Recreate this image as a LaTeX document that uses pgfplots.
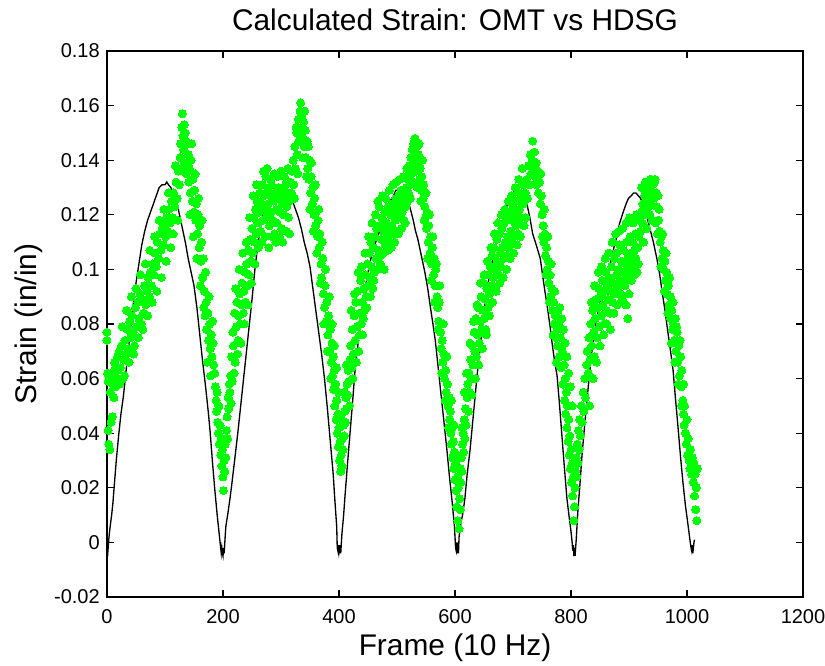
\documentclass[border=0pt]{standalone}
\usepackage{fontspec}
\setmainfont{Liberation Sans}
\usepackage{pgfplots}
\pgfplotsset{compat=1.18}
\definecolor{dotgreen}{RGB}{0,255,0}
\newcommand{\tickfont}{\fontsize{15pt}{17pt}\selectfont}
\newcommand{\labfont}{\fontsize{22.4pt}{26pt}\selectfont}
\begin{document}
\begin{tikzpicture}
\begin{axis}[
  name=ax,
  width=522pt, height=409.5pt, scale only axis,
  xmin=0, xmax=1200, ymin=-0.02, ymax=0.18,
  xtick={0,200,400,600,800,1000,1200},
  xticklabels={0,200,400,600,800,1000,1200},
  ytick={-0.02,0,0.02,0.04,0.06,0.08,0.1,0.12,0.14,0.16,0.18},
  yticklabels={-0.02,0,0.02,0.04,0.06,0.08,0.1,0.12,0.14,0.16,0.18},
  tick align=inside, major tick length=5.5pt,
  every tick/.style={black, line width=0.9pt},
  axis line style={line width=1.4pt},
  ticklabel style={font=\tickfont, inner sep=0pt},
  xticklabel style={yshift=-9.5pt},
  yticklabel style={xshift=-5.25pt},
  title={Calculated Strain: OMT vs HDSG},
  title style={at={(axis description cs:0.5,1.022)}, anchor=base, font=\labfont, inner sep=0pt},
  xlabel={Frame (10 Hz)},
  xlabel style={at={(axis description cs:0.5,-0.108)}, anchor=base, font=\labfont, inner sep=0pt},
  ylabel={Strain (in/in)},
  ylabel style={at={(axis description cs:-0.1006,0.5)}, anchor=base, font=\labfont, inner sep=0pt},
  clip=false,
]
% HDSG (black line)
\addplot[black, line width=1pt, no marks] coordinates {
(0,0.000)(1,-0.005)(2,-0.002)(3,0.001)(5,0.005)(8,0.010)(10,0.014)(13,0.022)(16,0.030)(20,0.039)
(24,0.047)(28,0.053)(32,0.061)(36,0.069)(40,0.077)(45,0.087)(50,0.095)(55,0.102)(60,0.109)(65,0.114)
(70,0.118)(75,0.121)(80,0.124)(85,0.127)(90,0.130)(95,0.131)(100,0.131)(103,0.132)(106,0.131)(110,0.130)
(115,0.128)(120,0.125)(125,0.120)(130,0.115)(135,0.110)(140,0.104)(145,0.099)(150,0.094)(155,0.086)
(160,0.076)(165,0.066)(170,0.057)(175,0.047)(178,0.040)(182,0.029)(186,0.019)(190,0.010)(194,0.002)
(196,-0.002)(197,-0.004)(198,-0.002)(199,-0.004)(200,-0.005)(201,-0.002)(202,-0.004)(204,0.003)
(205,0.006)(208,0.010)(212,0.016)(215,0.021)(220,0.030)(226,0.041)(232,0.053)(238,0.065)(244,0.077)
(250,0.089)(255,0.100)(260,0.109)(265,0.116)(270,0.121)(275,0.124)(280,0.126)(285,0.128)(290,0.129)
(295,0.130)(300,0.131)(305,0.131)(310,0.130)(315,0.128)(320,0.125)(325,0.122)(330,0.119)(335,0.115)
(340,0.110)(345,0.106)(350,0.101)(355,0.093)(360,0.085)(365,0.077)(370,0.069)(375,0.060)(380,0.049)
(385,0.037)(390,0.025)(393,0.015)(396,0.006)(397,-0.002)(398,-0.003)(399,-0.001)(400,-0.004)(401,-0.003)
(402,-0.001)(403,-0.004)(405,0.003)(408,0.010)(410,0.016)(414,0.027)(419,0.040)(424,0.053)(428,0.064)
(434,0.075)(440,0.085)(445,0.093)(450,0.099)(455,0.104)(460,0.108)(465,0.111)(470,0.114)(476,0.118)
(482,0.122)(488,0.125)(494,0.127)(498,0.129)(502,0.129)(506,0.128)(510,0.127)(515,0.126)(522,0.123)
(528,0.118)(532,0.114)(536,0.111)(542,0.105)(548,0.099)(553,0.093)(557,0.087)(562,0.080)(566,0.074)
(570,0.066)(574,0.058)(577,0.052)(582,0.042)(586,0.034)(590,0.025)(595,0.015)(599,0.006)(601,-0.002)
(602,-0.003)(603,0.000)(604,-0.004)(605,-0.002)(606,-0.004)(607,0.002)(610,0.007)(613,0.010)(617,0.016)
(621,0.025)(626,0.034)(630,0.043)(634,0.052)(638,0.061)(643,0.071)(648,0.080)(652,0.088)(657,0.095)
(661,0.099)(666,0.104)(672,0.110)(678,0.115)(683,0.119)(689,0.123)(695,0.126)(700,0.128)(704,0.129)
(707,0.129)(710,0.128)(714,0.127)(719,0.126)(724,0.124)(729,0.119)(734,0.113)(740,0.109)(747,0.104)
(751,0.098)(755,0.092)(760,0.085)(764,0.079)(768,0.072)(772,0.066)(776,0.061)(780,0.051)(784,0.040)
(788,0.029)(793,0.016)(797,0.009)(800,0.004)(802,0.000)(803,-0.003)(804,-0.001)(805,-0.005)(806,-0.002)
(807,-0.005)(808,-0.002)(809,0.001)(812,0.012)(815,0.020)(819,0.032)(824,0.044)(828,0.053)(832,0.062)
(836,0.070)(842,0.079)(848,0.086)(855,0.092)(862,0.097)(870,0.104)(875,0.109)(879,0.112)(884,0.117)
(890,0.121)(895,0.124)(899,0.126)(904,0.127)(908,0.128)(912,0.128)(916,0.127)(920,0.126)(924,0.124)
(930,0.120)(936,0.115)(942,0.110)(948,0.104)(953,0.098)(957,0.092)(962,0.085)(967,0.077)(971,0.071)
(976,0.063)(980,0.053)(985,0.041)(989,0.031)(993,0.022)(997,0.014)(1002,0.006)(1005,0.001)(1007,-0.002)
(1008,-0.003)(1009,-0.001)(1010,-0.004)(1011,-0.002)(1012,0.000)(1013,0.001)
};
% OMT (green dots)
\addplot[only marks, mark=*, mark size=3pt, mark options={fill=dotgreen, draw=dotgreen, line width=0pt}] coordinates {
(0,0.077)(0,0.074)(1,0.062)(2,0.059)(2,0.041)(3,0.036)(4,0.060)(5,0.034)(6,0.055)(7,0.044)(8,0.062)
(9,0.046)(10,0.058)(11,0.061)(12,0.053)(13,0.066)(14,0.057)(15,0.064)(17,0.060)(18,0.068)(19,0.063)
(21,0.070)(23,0.064)(25,0.072)(27,0.060)(29,0.067)(31,0.074)(33,0.069)(35,0.078)(37,0.071)(39,0.081)
(41,0.075)(43,0.083)(45,0.077)(47,0.072)(49,0.086)(51,0.079)(53,0.088)(55,0.082)(57,0.091)(59,0.080)
(61,0.089)(63,0.084)(65,0.094)(67,0.087)(69,0.092)(71,0.097)(73,0.090)(75,0.099)(77,0.094)(79,0.102)
(81,0.098)(83,0.106)(85,0.101)(87,0.110)(89,0.104)(91,0.113)(93,0.107)(95,0.115)(97,0.109)(99,0.117)
(101,0.112)(103,0.119)(105,0.114)(107,0.122)(109,0.117)(111,0.125)(113,0.119)(115,0.128)(117,0.123)
(119,0.132)(121,0.126)(123,0.136)(125,0.131)(126,0.141)(127,0.146)(128,0.137)(129,0.152)(130,0.157)
(131,0.149)(132,0.144)(133,0.153)(134,0.139)(135,0.150)(136,0.147)(137,0.135)(138,0.146)(140,0.142)
(141,0.132)(142,0.137)(144,0.128)(145,0.140)(147,0.125)(148,0.133)(150,0.121)(151,0.129)(153,0.118)
(154,0.124)(156,0.113)(157,0.120)(159,0.108)(160,0.116)(162,0.103)(163,0.110)(165,0.097)(166,0.104)
(168,0.092)(169,0.083)(171,0.088)(172,0.078)(174,0.084)(175,0.074)(177,0.080)(178,0.071)(180,0.076)
(181,0.068)(183,0.073)(184,0.065)(186,0.062)(187,0.057)(188,0.052)(189,0.048)(190,0.055)(191,0.044)
(192,0.040)(193,0.050)(194,0.036)(195,0.043)(196,0.032)(197,0.038)(198,0.028)(199,0.034)(200,0.024)
(201,0.019)(202,0.030)(203,0.026)(204,0.036)(205,0.031)(206,0.041)(207,0.046)(208,0.038)(209,0.053)
(210,0.049)(211,0.058)(212,0.055)(213,0.061)(214,0.051)(216,0.059)(215,0.068)(217,0.077)(218,0.072)
(220,0.084)(221,0.066)(223,0.079)(224,0.088)(226,0.074)(227,0.083)(229,0.091)(230,0.080)(232,0.087)
(233,0.095)(235,0.084)(236,0.092)(238,0.099)(239,0.088)(241,0.102)(242,0.094)(244,0.107)(245,0.098)
(247,0.111)(248,0.103)(250,0.115)(251,0.106)(253,0.119)(254,0.110)(256,0.122)(257,0.113)(259,0.125)
(260,0.117)(262,0.121)(263,0.128)(265,0.114)(266,0.124)(268,0.131)(269,0.118)(271,0.127)(272,0.122)
(274,0.134)(275,0.119)(277,0.129)(278,0.124)(280,0.116)(281,0.127)(283,0.121)(284,0.131)(286,0.118)
(287,0.125)(289,0.113)(290,0.128)(292,0.122)(293,0.117)(295,0.126)(296,0.130)(298,0.121)(299,0.127)
(301,0.115)(302,0.124)(304,0.129)(305,0.120)(307,0.126)(308,0.131)(310,0.123)(311,0.128)(313,0.119)
(314,0.125)(316,0.132)(317,0.127)(319,0.136)(321,0.140)(322,0.131)(324,0.145)(325,0.137)(327,0.150)
(328,0.142)(330,0.155)(331,0.147)(333,0.158)(334,0.161)(335,0.152)(336,0.156)(338,0.148)(339,0.154)
(340,0.145)(342,0.151)(343,0.141)(345,0.147)(346,0.137)(348,0.133)(349,0.140)(351,0.128)(352,0.134)
(354,0.124)(355,0.130)(357,0.120)(358,0.126)(360,0.116)(361,0.121)(363,0.112)(364,0.118)(366,0.108)
(367,0.113)(369,0.102)(370,0.097)(372,0.104)(373,0.091)(375,0.086)(376,0.094)(378,0.081)(379,0.088)
(381,0.076)(382,0.083)(384,0.070)(385,0.078)(387,0.066)(388,0.073)(389,0.061)(390,0.068)(391,0.056)
(392,0.063)(393,0.050)(394,0.058)(395,0.045)(396,0.052)(397,0.040)(398,0.047)(399,0.035)(400,0.042)
(401,0.030)(402,0.037)(403,0.026)(404,0.032)(405,0.028)(406,0.038)(407,0.034)(408,0.043)(409,0.039)
(410,0.048)(411,0.044)(412,0.053)(413,0.049)(414,0.058)(415,0.054)(416,0.063)(417,0.059)(419,0.067)
(420,0.072)(422,0.064)(423,0.078)(425,0.069)(426,0.083)(428,0.074)(429,0.088)(431,0.079)(432,0.092)
(434,0.070)(435,0.084)(437,0.096)(438,0.080)(440,0.088)(441,0.076)(443,0.093)(444,0.085)(446,0.098)
(447,0.090)(449,0.102)(450,0.094)(452,0.106)(453,0.097)(455,0.110)(456,0.101)(458,0.093)(459,0.108)
(461,0.099)(462,0.112)(464,0.104)(465,0.115)(467,0.125)(468,0.107)(470,0.116)(471,0.102)(473,0.111)
(474,0.119)(476,0.106)(477,0.114)(479,0.121)(480,0.109)(482,0.117)(483,0.112)(485,0.123)(486,0.115)
(488,0.110)(489,0.120)(491,0.116)(492,0.124)(494,0.113)(495,0.121)(497,0.118)(498,0.126)(500,0.114)
(501,0.122)(503,0.127)(504,0.119)(506,0.124)(507,0.129)(509,0.121)(510,0.126)(512,0.118)(513,0.128)
(515,0.123)(516,0.130)(518,0.125)(519,0.133)(520,0.128)(521,0.138)(522,0.131)(524,0.141)(525,0.135)
(526,0.144)(527,0.138)(529,0.146)(530,0.141)(531,0.148)(532,0.143)(533,0.136)(534,0.145)(536,0.139)
(537,0.142)(539,0.133)(540,0.137)(542,0.129)(543,0.134)(545,0.126)(546,0.131)(548,0.123)(549,0.119)
(551,0.115)(552,0.121)(554,0.110)(555,0.116)(557,0.106)(558,0.112)(560,0.102)(561,0.108)(563,0.098)
(564,0.104)(566,0.094)(567,0.100)(569,0.090)(570,0.086)(572,0.081)(573,0.088)(575,0.077)(576,0.071)
(578,0.074)(579,0.066)(581,0.069)(582,0.060)(584,0.063)(585,0.055)(587,0.058)(588,0.050)(590,0.053)
(591,0.045)(592,0.048)(593,0.040)(594,0.036)(595,0.042)(596,0.031)(597,0.037)(598,0.027)(599,0.033)
(600,0.023)(601,0.029)(602,0.019)(603,0.013)(604,0.024)(605,0.008)(606,0.020)(607,0.005)(608,0.016)
(609,0.027)(610,0.022)(611,0.031)(612,0.026)(613,0.036)(614,0.040)(615,0.033)(616,0.045)(617,0.038)
(618,0.049)(619,0.043)(621,0.053)(622,0.058)(624,0.062)(625,0.055)(627,0.067)(628,0.060)(630,0.072)
(631,0.065)(633,0.077)(634,0.070)(636,0.082)(637,0.068)(639,0.076)(640,0.086)(642,0.073)(643,0.081)
(645,0.090)(646,0.078)(648,0.085)(649,0.095)(651,0.082)(652,0.089)(654,0.076)(655,0.093)(657,0.086)
(658,0.098)(660,0.091)(661,0.101)(663,0.094)(664,0.105)(666,0.097)(667,0.108)(669,0.100)(670,0.093)
(672,0.111)(673,0.103)(675,0.098)(676,0.113)(678,0.106)(679,0.101)(681,0.115)(682,0.108)(684,0.104)
(685,0.117)(687,0.110)(688,0.105)(690,0.119)(691,0.112)(693,0.108)(694,0.121)(696,0.114)(697,0.110)
(699,0.118)(700,0.123)(702,0.112)(703,0.120)(705,0.116)(706,0.125)(708,0.118)(709,0.113)(711,0.122)
(712,0.128)(714,0.119)(715,0.126)(717,0.131)(718,0.124)(719,0.116)(721,0.128)(722,0.119)(724,0.133)
(725,0.126)(727,0.138)(728,0.131)(730,0.142)(731,0.135)(733,0.140)(734,0.147)(735,0.137)(737,0.143)
(738,0.134)(740,0.139)(741,0.131)(743,0.136)(744,0.128)(746,0.132)(747,0.124)(749,0.127)(750,0.120)
(752,0.116)(753,0.110)(755,0.113)(756,0.105)(758,0.108)(759,0.100)(761,0.103)(762,0.095)(764,0.098)
(765,0.090)(767,0.093)(768,0.085)(770,0.088)(771,0.080)(773,0.083)(774,0.075)(776,0.078)(777,0.072)
(779,0.080)(780,0.068)(782,0.075)(783,0.064)(785,0.070)(786,0.058)(788,0.065)(789,0.052)(790,0.060)
(791,0.047)(792,0.055)(793,0.042)(794,0.050)(795,0.037)(796,0.045)(797,0.032)(798,0.039)(799,0.027)
(800,0.034)(801,0.022)(802,0.029)(803,0.017)(804,0.024)(805,0.008)(806,0.013)(807,0.020)(808,0.026)
(809,0.031)(810,0.024)(811,0.036)(812,0.029)(813,0.041)(814,0.034)(815,0.045)(816,0.039)(818,0.050)
(819,0.044)(821,0.055)(822,0.048)(824,0.060)(825,0.053)(827,0.065)(828,0.070)(830,0.062)(831,0.075)
(833,0.067)(834,0.080)(836,0.072)(837,0.085)(839,0.077)(840,0.068)(842,0.082)(843,0.089)(845,0.075)
(846,0.086)(848,0.093)(849,0.079)(851,0.090)(852,0.083)(854,0.096)(855,0.087)(857,0.080)(858,0.092)
(860,0.099)(861,0.085)(863,0.094)(864,0.089)(866,0.097)(867,0.084)(869,0.092)(870,0.101)(872,0.088)
(873,0.095)(875,0.104)(876,0.091)(878,0.098)(879,0.106)(881,0.093)(882,0.100)(884,0.109)(885,0.096)
(887,0.103)(888,0.089)(890,0.099)(891,0.107)(893,0.094)(894,0.102)(895,0.087)(896,0.110)(897,0.098)
(898,0.082)(899,0.105)(900,0.101)(900,0.091)(902,0.112)(903,0.106)(905,0.103)(906,0.110)(908,0.100)
(909,0.107)(911,0.113)(912,0.104)(914,0.099)(915,0.108)(917,0.112)(918,0.118)(920,0.114)(921,0.121)
(923,0.117)(924,0.124)(926,0.120)(927,0.127)(929,0.122)(930,0.129)(932,0.125)(933,0.131)(935,0.127)
(936,0.120)(938,0.129)(939,0.124)(941,0.131)(942,0.126)(944,0.132)(945,0.133)(947,0.128)(948,0.123)
(950,0.127)(951,0.118)(953,0.114)(954,0.110)(956,0.112)(957,0.104)(959,0.107)(960,0.100)(962,0.103)
(963,0.096)(965,0.099)(966,0.091)(968,0.094)(969,0.087)(971,0.090)(972,0.082)(974,0.085)(975,0.078)
(977,0.080)(978,0.074)(980,0.082)(981,0.070)(983,0.077)(984,0.066)(986,0.072)(987,0.061)(989,0.068)
(990,0.057)(991,0.063)(993,0.052)(994,0.047)(995,0.043)(996,0.050)(998,0.040)(999,0.036)(1000,0.045)
(1001,0.032)(1002,0.038)(1004,0.030)(1005,0.027)(1006,0.034)(1007,0.028)(1008,0.025)(1009,0.031)
(1010,0.026)(1011,0.022)(1012,0.029)(1013,0.017)(1014,0.025)(1015,0.012)(1016,0.020)(1017,0.008)
(1018,0.027)
% wider scatter
(22,0.058)(26,0.079)(30,0.061)(34,0.085)(38,0.066)(42,0.090)(46,0.069)(50,0.093)(54,0.075)(58,0.098)
(62,0.078)(66,0.102)(70,0.083)(74,0.107)(78,0.088)(82,0.112)(86,0.092)(90,0.118)(94,0.097)(98,0.122)
(102,0.103)(106,0.128)(110,0.108)(114,0.113)(118,0.138)(122,0.118)
(143,0.120)(146,0.146)(149,0.112)(152,0.135)(155,0.104)(158,0.126)(161,0.094)(164,0.118)(167,0.086)
(170,0.099)(173,0.066)(176,0.090)(179,0.061)(182,0.081)
(219,0.062)(222,0.093)(225,0.069)(228,0.100)(231,0.073)(234,0.106)(237,0.080)(240,0.110)(243,0.087)
(246,0.119)(249,0.095)(252,0.127)(255,0.102)(258,0.131)(261,0.108)
(267,0.110)(270,0.136)(273,0.112)(276,0.137)(279,0.108)(282,0.133)(285,0.112)(288,0.135)(291,0.110)
(294,0.134)(297,0.112)(300,0.136)(303,0.110)(306,0.134)(309,0.114)(312,0.137)(315,0.113)(318,0.128)
(323,0.126)(326,0.152)(329,0.135)(332,0.149)(337,0.141)(341,0.158)(344,0.134)(347,0.145)(350,0.122)
(353,0.139)(356,0.114)(359,0.131)(362,0.106)(365,0.122)(368,0.095)(371,0.110)(374,0.080)(377,0.100)
(380,0.070)(383,0.090)(386,0.060)
(388,0.080)(392,0.072)(396,0.064)(399,0.055)(405,0.045)(409,0.055)(413,0.065)(418,0.050)
(421,0.085)(424,0.060)(427,0.091)(430,0.066)(433,0.099)(436,0.076)(439,0.101)(442,0.082)(445,0.106)
(448,0.086)(451,0.112)(454,0.090)(457,0.117)(460,0.096)(463,0.120)(466,0.100)(469,0.123)(472,0.105)
(475,0.127)(478,0.100)(481,0.126)(484,0.107)(487,0.129)(490,0.108)(493,0.131)(496,0.110)(499,0.132)
(502,0.113)(505,0.133)(508,0.115)(511,0.134)(514,0.117)(517,0.137)
(523,0.126)(528,0.132)(535,0.130)(538,0.146)(541,0.125)(544,0.140)(547,0.118)(550,0.128)(553,0.104)
(556,0.120)(559,0.096)(562,0.112)(565,0.088)(568,0.102)(571,0.078)(574,0.094)(577,0.062)(580,0.080)
(583,0.052)(586,0.068)(589,0.042)
(594,0.052)(598,0.043)(603,0.032)(609,0.012)(612,0.042)(616,0.055)(620,0.062)
(623,0.048)(626,0.073)(629,0.054)(632,0.081)(635,0.060)(638,0.087)(641,0.065)(644,0.095)(647,0.071)
(650,0.098)(653,0.078)(656,0.103)(659,0.083)(662,0.108)(665,0.088)(668,0.113)(671,0.092)(674,0.117)
(677,0.095)(680,0.120)(683,0.097)(686,0.122)(689,0.100)(692,0.125)(695,0.104)(698,0.127)(701,0.106)
(704,0.130)(707,0.109)(710,0.133)(713,0.112)(716,0.137)
(748,0.135)(751,0.112)(754,0.122)(757,0.098)(760,0.112)(763,0.088)(766,0.102)(769,0.076)(772,0.092)
(775,0.066)(778,0.085)(781,0.086)(784,0.082)(787,0.078)(790,0.073)(793,0.068)(796,0.062)(799,0.057)
(802,0.050)
(832,0.050)(835,0.088)(838,0.060)(841,0.094)(844,0.066)(847,0.099)(850,0.072)(853,0.101)(856,0.076)
(859,0.104)(862,0.080)(865,0.106)(868,0.078)(871,0.110)(874,0.084)(877,0.113)(880,0.087)(883,0.114)
(886,0.091)(889,0.115)(892,0.095)(895,0.117)(898,0.096)(901,0.119)(904,0.096)(907,0.117)(910,0.098)
(913,0.120)(916,0.102)
(922,0.130)(925,0.110)(928,0.132)(931,0.115)(934,0.123)(937,0.133)(940,0.118)(943,0.126)(946,0.117)
(949,0.113)(952,0.122)(955,0.101)(958,0.113)(961,0.092)(964,0.106)(967,0.084)(970,0.097)(973,0.073)
(976,0.088)(979,0.066)(982,0.079)(985,0.058)(988,0.074)(991,0.050)(994,0.058)(997,0.040)
};
\end{axis}
\pgfresetboundingbox
\path ([shift={(-80.25pt,-51.75pt)}]ax.south west) rectangle ([shift={(16.5pt,38.25pt)}]ax.north east);
\end{tikzpicture}
\end{document}
